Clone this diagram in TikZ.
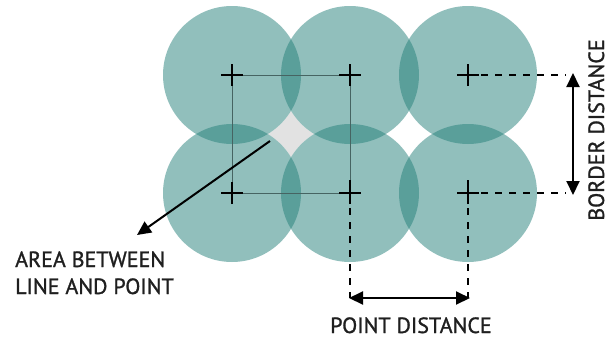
\documentclass[tikz,border=0pt]{standalone}
\usepackage{fontspec}
\setmainfont{PT Sans}
\newfontfamily\lblfont{PT Sans}[FakeBold=1.2]
\usetikzlibrary{arrows.meta}
\definecolor{teal1}{RGB}{36,128,122}
\definecolor{gapgray}{RGB}{226,226,226}
\definecolor{gridline}{RGB}{70,100,98}
\tikzset{
  disc/.style={fill=teal1, fill opacity=0.5, draw=none},
  whitedisc/.style={fill=white, draw=none},
  crossmark/.style={line width=1.6pt, black},
  gridln/.style={line width=0.9pt, gridline},
  dimdash/.style={line width=1.6pt, black, dash pattern=on 7pt off 7pt},
  dimarrow/.style={line width=2pt, black, {Triangle[length=14pt,width=13pt]}-{Triangle[length=14pt,width=13pt]}},
  leader/.style={line width=2pt, black, -{Triangle[length=14pt,width=13pt]}},
  lbl/.style={font=\lblfont\fontsize{22}{27}\selectfont, inner sep=0pt, text=black!88}
}
\begin{document}
\begin{tikzpicture}[x=1pt,y=-1pt]
\useasboundingbox (0,0) rectangle (611,341);
% centers
\coordinate (c11) at (232,75);
\coordinate (c12) at (350,75);
\coordinate (c13) at (468,75);
\coordinate (c21) at (232,193);
\coordinate (c22) at (350,193);
\coordinate (c23) at (468,193);
% gap area
\fill[gapgray] (c11) rectangle (c22);
\foreach \c in {c11,c12,c13,c21,c22,c23} \fill[whitedisc] (\c) circle (69);
\foreach \c in {c11,c12,c13,c21,c22,c23} \fill[disc] (\c) circle (69);
% grid square
\draw[gridln] (c11) -- (c12) -- (c22) -- (c21) -- cycle;
% crosses
\foreach \c in {c11,c12,c13,c21,c22,c23} {
  \draw[crossmark] ([xshift=-11pt]\c) -- ([xshift=11pt]\c);
  \draw[crossmark] ([yshift=-11pt]\c) -- ([yshift=11pt]\c);
}
% dimension helpers
\coordinate (bt) at (573,73);
\coordinate (bb) at (573,195);
\coordinate (pl) at (349,298);
\coordinate (pr) at (470,298);
\draw[dimdash] ([xshift=13pt]c13) -- (566,75);
\draw[dimdash] ([xshift=13pt]c23) -- (566,193);
\draw[dimdash] ([yshift=13pt]c22) -- (350,298);
\draw[dimdash] ([yshift=13pt]c23) -- (468,298);
\draw[dimarrow] (bt) -- (bb);
\draw[dimarrow] (pl) -- (pr);
% leader
\coordinate (gap) at (270,141);
\coordinate (tip) at (137,235);
\draw[leader] (gap) -- (tip);
% labels
\node[lbl, anchor=base west] (area1) at (15,267) {AREA BETWEEN};
\node[lbl, anchor=base west] (area2) at (15,294) {LINE AND POINT};
\node[lbl, anchor=base] (pd) at (411,333) {POINT DISTANCE};
\node[lbl, anchor=base, rotate=90] (bd) at (604,130) {BORDER DISTANCE};
\end{tikzpicture}
\end{document}
